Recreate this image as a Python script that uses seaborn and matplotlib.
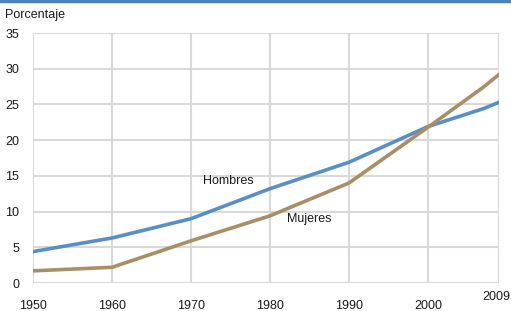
import numpy as np
import pandas as pd
import seaborn as sns
import matplotlib.pyplot as plt
import matplotlib.transforms as mtransforms

# datos
anios = [1950, 1960, 1970, 1980, 1990, 2000, 2007, 2009]
hombres = [4.4, 6.3, 9.0, 13.2, 16.9, 21.9, 24.4, 25.3]
mujeres = [1.7, 2.2, 5.9, 9.4, 14.0, 21.8, 27.4, 29.2]
ticks_y = [0, 5, 10, 15, 20, 25, 30, 35]
ticks_x = [1950, 1960, 1970, 1980, 1990, 2000]

df = pd.DataFrame({'anio': anios * 2,
                   'valor': hombres + mujeres,
                   'serie': ['Hombres'] * len(anios) + ['Mujeres'] * len(anios)})

sns.set_theme(style="white")
plt.rcParams['font.family'] = ['Liberation Sans', 'DejaVu Sans']

fig = plt.figure(figsize=(5.11, 3.11), dpi=100)
ax = fig.add_axes([33 / 511, 28 / 311, 466 / 511, 250 / 311])

colores = {'Hombres': '#5A8FC6', 'Mujeres': '#A88F66'}
sns.lineplot(data=df, x='anio', y='valor', hue='serie', palette=colores,
             linewidth=2.6, legend=False, ax=ax, zorder=3)

ax.set_xlim(1950, 2009)
ax.set_ylim(0, 35)
ax.set_xticks(ticks_x)
ax.set_xticks([2009], minor=True)
ax.set_xticklabels([str(t) for t in ticks_x])
ax.set_xticklabels(['2009'], minor=True)
ax.set_yticks(ticks_y)
ax.grid(True, which='both', color='#D9D9D9', linewidth=1.5)
for s in ax.spines.values():
    s.set_visible(False)
ax.tick_params(axis='x', which='major', length=0, pad=12, labelsize=9, colors='#1a1a1a')
ax.tick_params(axis='x', which='minor', length=0, pad=6, labelsize=9, colors='#1a1a1a')
ax.tick_params(axis='y', length=0, pad=10, labelsize=9, colors='#1a1a1a')
ax.set_xlabel('')
ax.set_ylabel('')

# desplazar un poco la etiqueta 2009 para que quepa
desplaza = mtransforms.ScaledTranslation(-3 / 100, 0, fig.dpi_scale_trans)
for lab in ax.get_xticklabels(minor=True):
    lab.set_transform(lab.get_transform() + desplaza)

ax.text(1974.7, 14.3, 'Hombres', fontsize=9, color='#1a1a1a', ha='center', va='center')
ax.text(1985.0, 9.0, 'Mujeres', fontsize=9, color='#1a1a1a', ha='center', va='center')
fig.text(5 / 511, 1 - 15 / 311, 'Porcentaje', fontsize=9, color='#1a1a1a', va='center')
fig.add_artist(plt.Line2D([0, 1], [1 - 1 / 311, 1 - 1 / 311], color='#4F81BD', linewidth=2.5))

fig.savefig('out.png', dpi=100)
